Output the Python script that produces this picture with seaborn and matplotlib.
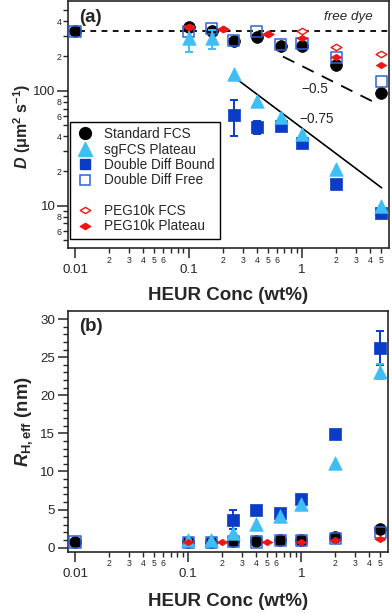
import numpy as np
import matplotlib
matplotlib.use("Agg")
import matplotlib.pyplot as plt
import seaborn as sns
from matplotlib.path import Path
from matplotlib.markers import MarkerStyle
from matplotlib.lines import Line2D
from matplotlib.ticker import FixedLocator, FuncFormatter

# ---------------- data ----------------
conc_std = [0.01, 0.1, 0.16, 0.25, 0.4, 0.65, 1.0, 2.0, 5.0]
D_std = [330, 356, 330, 272, 295, 246, 243, 166, 95]
D_free = [330, 326, 350, 272, 326, 250, 259, 193, 120]
R_std = [0.79, 0.75, 0.75, 0.92, 0.88, 1.0, 1.0, 1.45, 2.4]
R_free = [0.75, 0.7, 0.7, 0.85, 0.75, 0.95, 0.9, 1.25, 1.95]

conc_sg = [0.1, 0.16, 0.25, 0.4, 0.65, 1.0, 2.0, 5.0]
D_sg = [288, 285, 140, 82, 59, 42, 21, 10]
D_sg_err = [70, 55, 0, 0, 0, 0, 0, 0]
R_sg = [1.0, 1.05, 1.97, 3.1, 4.16, 5.8, 11.1, 23.1]
R_sg_err = [0, 0, 0, 0, 0, 0, 0, 1.0]

conc_bound = [0.25, 0.4, 0.65, 1.0, 2.0, 5.0]
D_bound = [62, 48, 49, 35, 15.5, 8.6]
D_bound_err = [21.5, 6, 0, 0, 0, 0]
R_bound = [3.7, 4.95, 4.6, 6.35, 14.9, 26.2]
R_bound_err = [1.2, 0, 0, 0, 0, 2.2]

conc_peg = [0.1, 0.2, 0.5, 1.0, 2.0, 5.0]
D_peg_fcs = [357, 344, 310, 330, 240, 207]
D_peg_plat = [355, 344, 310, 286, 195, 167]
R_peg_plat = [0.7, 0.7, 0.79, 0.79, 1.0, 1.18]

D_free_dye = 330
guide_half_x = [0.68, 4.55]
guide_half_D = [198, 77.5]
guide_34_x = [0.253, 5.04]
guide_34_D = [131, 14.3]

x_major = [0.01, 0.1, 1]
x_major_labels = ["0.01", "0.1", "1"]

# ---------------- style ----------------
sns.set_theme(style="ticks")
plt.rcParams["font.family"] = ["Liberation Sans", "DejaVu Sans"]
plt.rcParams["mathtext.fontset"] = "custom"
plt.rcParams["mathtext.rm"] = "Liberation Sans"
plt.rcParams["mathtext.it"] = "Liberation Sans:italic"
plt.rcParams["mathtext.bf"] = "Liberation Sans:bold"
plt.rcParams["mathtext.bfit"] = "Liberation Sans:bold:italic"
plt.rcParams["axes.linewidth"] = 1.2

C_BLACK = "black"
C_LB = "#3DBEF4"
C_DB = "#0A3CC8"
C_OPEN = "#2F62D8"
C_RED = "#F21414"

diamond = MarkerStyle(Path([(-1, 0), (0, 0.6), (1, 0), (0, -0.6), (-1, 0)],
                           [Path.MOVETO, Path.LINETO, Path.LINETO, Path.LINETO, Path.CLOSEPOLY]))

fig = plt.figure(figsize=(3.92, 6.13), dpi=100)
axA = fig.add_axes([68 / 392, 1 - 248 / 613, 321 / 392, 247 / 613])
axB = fig.add_axes([68 / 392, 1 - 552 / 613, 320 / 392, 241 / 613])


def errs(ax, x, y, e, color, z):
    x = np.asarray(x); y = np.asarray(y); e = np.asarray(e)
    m = e > 0
    if m.any():
        ax.errorbar(x[m], y[m], yerr=e[m], fmt="none", ecolor=color,
                    elinewidth=1.4, capsize=3.2, capthick=1.4, zorder=z)


def sc(ax, x, y, **kw):
    sns.scatterplot(x=x, y=y, ax=ax, legend=False, **kw)


# ---------------- panel (a) ----------------
ax = axA
ax.axhline(D_free_dye, color="black", lw=1.3, ls=(0, (3.2, 3.0)), zorder=1)
ax.plot(guide_half_x, guide_half_D, color="black", lw=1.3, ls=(0, (7, 5)), zorder=1)
ax.plot(guide_34_x, guide_34_D, color="black", lw=1.2, zorder=1)

sc(ax, conc_std, D_std, marker="o", s=72, color=C_BLACK, edgecolor=C_BLACK, linewidth=0.5, zorder=3)
errs(ax, conc_bound, D_bound, D_bound_err, C_DB, 4)
sc(ax, conc_bound, D_bound, marker="s", s=64, color=C_DB, edgecolor=C_DB, linewidth=0.5, zorder=4)
sc(ax, conc_std, D_free, marker="s", s=64, color=C_OPEN, facecolor="none", edgecolor=C_OPEN, linewidth=1.1, zorder=5)
errs(ax, conc_sg, D_sg, D_sg_err, C_LB, 6)
sc(ax, conc_sg, D_sg, marker="^", s=95, color=C_LB, edgecolor=C_LB, linewidth=0.5, zorder=6)
sc(ax, conc_peg, D_peg_fcs, marker=diamond, s=60, color=C_RED, facecolor="white", edgecolor=C_RED, linewidth=1.0, zorder=7)
sc(ax, conc_peg, D_peg_plat, marker=diamond, s=60, color=C_RED, edgecolor=C_RED, linewidth=0.5, zorder=8)

ax.set_yscale("log")
ax.set_ylim(10 ** 0.632, 10 ** 2.78)

ax.text(0.036, 0.935, "(a)", transform=ax.transAxes, fontsize=13.5, fontweight="bold",
        ha="left", va="center")
ax.text(0.95, 0.935, "free dye", transform=ax.transAxes, fontsize=9.6, style="italic",
        ha="right", va="center")
ax.text(1.3, 103, "\u22120.5", fontsize=9.8, ha="center", va="center")
ax.text(1.35, 57, "\u22120.75", fontsize=9.8, ha="center", va="center")

handles = [
    Line2D([], [], ls="none", marker="o", ms=8.5, color=C_BLACK),
    Line2D([], [], ls="none", marker="^", ms=9.5, color=C_LB),
    Line2D([], [], ls="none", marker="s", ms=7.5, color=C_DB),
    Line2D([], [], ls="none", marker="s", ms=7.5, mfc="none", mec=C_OPEN, mew=1.1),
    Line2D([], [], ls="none", marker="", color="none"),
    Line2D([], [], ls="none", marker=diamond, ms=7.5, mfc="white", mec=C_RED, mew=1.0),
    Line2D([], [], ls="none", marker=diamond, ms=7.5, color=C_RED),
]
labels = ["Standard FCS", "sgFCS Plateau", "Double Diff Bound", "Double Diff Free", " ",
          "PEG10k FCS", "PEG10k Plateau"]
leg = ax.legend(handles, labels, loc="upper left", bbox_to_anchor=(0.006, 0.511),
                borderaxespad=0, frameon=True, fancybox=False, fontsize=9.8,
                labelspacing=0.1, handlelength=1.4, handletextpad=0.7,
                borderpad=0.4, framealpha=1)
leg.get_frame().set_edgecolor("black")
leg.get_frame().set_linewidth(1.0)
leg.set_zorder(10)

# ---------------- panel (b) ----------------
ax = axB
sc(ax, conc_std, R_std, marker="o", s=72, color=C_BLACK, edgecolor=C_BLACK, linewidth=0.5, zorder=3)
errs(ax, conc_bound, R_bound, R_bound_err, C_DB, 4)
sc(ax, conc_bound, R_bound, marker="s", s=64, color=C_DB, edgecolor=C_DB, linewidth=0.5, zorder=4)
sc(ax, conc_std, R_free, marker="s", s=64, color=C_OPEN, facecolor="none", edgecolor=C_OPEN, linewidth=1.1, zorder=5)
errs(ax, conc_sg, R_sg, R_sg_err, C_LB, 6)
sc(ax, conc_sg, R_sg, marker="^", s=95, color=C_LB, edgecolor=C_LB, linewidth=0.5, zorder=6)
sc(ax, conc_peg, R_peg_plat, marker=diamond, s=60, color=C_RED, edgecolor=C_RED, linewidth=0.5, zorder=8)

ax.set_ylim(-0.56, 31.05)
ax.set_yticks([0, 5, 10, 15, 20, 25, 30])
ax.yaxis.set_minor_locator(FixedLocator(np.arange(0, 31, 1)))
ax.tick_params(axis="y", which="major", length=7, width=1.1, labelsize=9.6, pad=2.2)
ax.tick_params(axis="y", which="minor", length=3.6, width=1.0)
ax.text(0.036, 0.935, "(b)", transform=ax.transAxes, fontsize=13.5, fontweight="bold",
        ha="left", va="center")

# ---------------- shared x axis formatting ----------------
x_minor = [k * 10.0 ** d for d in (-2, -1, 0) for k in range(2, 10) if k * 10.0 ** d < 5.9]


def minor_x_fmt(v, pos):
    k = int(round(v / 10 ** np.floor(np.log10(v) + 1e-9)))
    return str(k) if 2 <= k <= 6 else ""


for ax in (axA, axB):
    ax.set_xscale("log")
    ax.set_xlim(10 ** -2.062, 10 ** 0.767)
    ax.xaxis.set_major_locator(FixedLocator(x_major))
    ax.set_xticklabels(x_major_labels)
    ax.xaxis.set_minor_locator(FixedLocator(x_minor))
    ax.xaxis.set_minor_formatter(FuncFormatter(minor_x_fmt))
    ax.tick_params(axis="x", which="major", length=7.5, width=1.1, labelsize=9.6, pad=4.2)
    ax.tick_params(axis="x", which="minor", length=3.8, width=1.0, labelsize=6.3, pad=1.6)
    for sp in ax.spines.values():
        sp.set_visible(True)
        sp.set_linewidth(1.2)
    ax.set_xlabel("")
    ax.set_ylabel("")

# panel (a) y ticks
y_minor = [k * 10.0 ** d for d in (0, 1, 2) for k in range(2, 10) if 4.2 < k * 10.0 ** d < 590]


def minor_y_fmt(v, pos):
    k = int(round(v / 10 ** np.floor(np.log10(v) + 1e-9)))
    return str(k) if k in (2, 4, 6, 8) else ""


axA.yaxis.set_major_locator(FixedLocator([10, 100]))
axA.set_yticklabels(["10", "100"])
axA.yaxis.set_minor_locator(FixedLocator(y_minor))
axA.yaxis.set_minor_formatter(FuncFormatter(minor_y_fmt))
axA.tick_params(axis="y", which="major", length=8, width=1.1, labelsize=9.6, pad=1.0)
axA.tick_params(axis="y", which="minor", length=3.6, width=1.0, labelsize=6.3, pad=1.0)

# axis titles
fig.text(228 / 392, 1 - 295 / 613, "HEUR Conc (wt%)", fontsize=13.5, fontweight="bold",
         ha="center", va="center")
fig.text(228 / 392, 1 - 601 / 613, "HEUR Conc (wt%)", fontsize=13.5, fontweight="bold",
         ha="center", va="center")
fig.text(22 / 392, 1 - 126 / 613,
         r"$\mathbfit{D}$ (μm$^{\mathbf{2}}$ s$^{\mathbf{-1}}$)",
         fontsize=11.5, fontweight="bold", rotation=90, ha="center", va="center")
fig.text(24 / 392, 1 - 422 / 613,
         r"$\mathbfit{R}_{\mathbf{H,eff}}$ (nm)",
         fontsize=13.2, fontweight="bold", rotation=90, ha="center", va="center")

fig.savefig("out.png", dpi=100)
